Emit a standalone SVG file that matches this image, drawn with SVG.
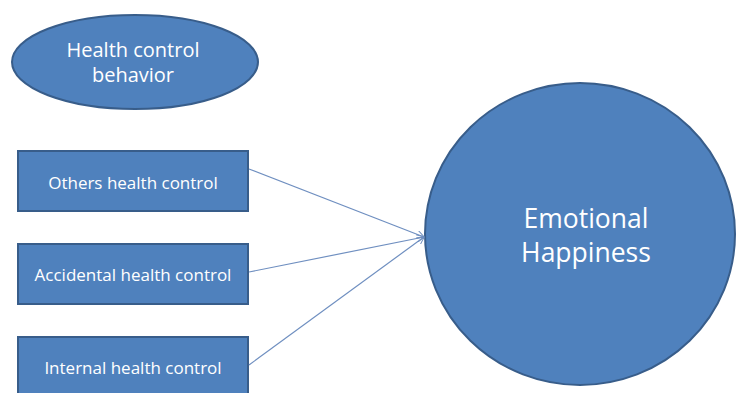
<svg xmlns="http://www.w3.org/2000/svg" width="736" height="393" viewBox="0 0 736 393">
<defs>
<style>
.shape{fill:#4f81bd;stroke:#385d8a;stroke-width:2}
.t{fill:#ffffff;font-family:"Open Sans","Noto Sans",sans-serif;text-anchor:middle}
.c{stroke:#6f8fc0;stroke-width:1.2;fill:none;marker-end:url(#arr)}
</style>
<marker id="arr" viewBox="0 0 10 10" refX="9.5" refY="5" markerWidth="8" markerHeight="8" markerUnits="userSpaceOnUse" orient="auto">
<path d="M0,0 L10,5 L0,10" fill="none" stroke="#6f8fc0" stroke-width="1.2"/>
</marker>
</defs>
<rect width="736" height="393" fill="#ffffff"/>
<g id="health-control-behavior">
<ellipse class="shape" cx="135" cy="62" rx="123" ry="47"/>
<text class="t" x="133" y="57" font-size="20">Health control</text>
<text class="t" x="133" y="82" font-size="20">behavior</text>
</g>
<g id="others-health-control">
<rect class="shape" x="18" y="151" width="230" height="60"/>
<text class="t" x="133" y="189" font-size="17">Others health control</text>
</g>
<g id="accidental-health-control">
<rect class="shape" x="18" y="244" width="230" height="60"/>
<text class="t" x="133" y="281" font-size="17">Accidental health control</text>
</g>
<g id="internal-health-control">
<rect class="shape" x="18" y="337" width="230" height="60"/>
<text class="t" x="133" y="374" font-size="17">Internal health control</text>
</g>
<g id="emotional-happiness">
<ellipse class="shape" cx="580" cy="234" rx="155" ry="151"/>
<text class="t" x="586" y="228" font-size="26.5">Emotional</text>
<text class="t" x="586" y="262" font-size="26.5">Happiness</text>
</g>
<g id="connectors">
<line class="c" x1="249" y1="169" x2="424" y2="237"/>
<line class="c" x1="249" y1="272" x2="424" y2="237"/>
<line class="c" x1="249" y1="365" x2="424" y2="237"/>
</g>
</svg>
